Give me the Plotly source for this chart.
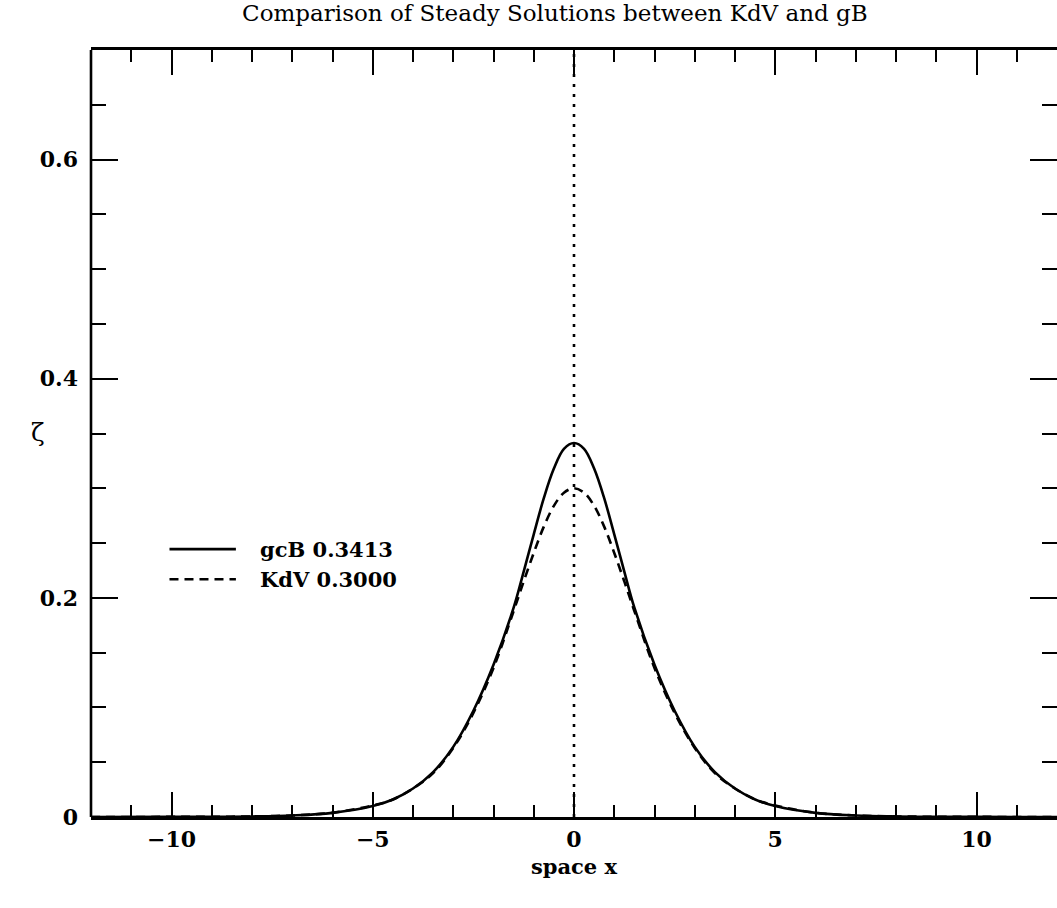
import plotly.graph_objects as go

# Steady solitary-wave profiles, sampled along x
x_vals = [-12.0, -10.0, -9.0, -8.0, -7.0, -6.0, -5.0, -4.5, -4.0, -3.5, -3.0, -2.5, -2.0,
          -1.5, -1.25, -1.0, -0.75, -0.5, -0.25, 0.0, 0.25, 0.5, 0.75, 1.0, 1.25, 1.5,
          2.0, 2.5, 3.0, 3.5, 4.0, 4.5, 5.0, 6.0, 7.0, 8.0, 9.0, 10.0, 12.0]

gcb_vals = [0.0, 0.0001, 0.0002, 0.0005, 0.0014, 0.0038, 0.010, 0.016, 0.026, 0.041, 0.064,
            0.097, 0.139, 0.191, 0.224, 0.258, 0.291, 0.318, 0.336, 0.3413, 0.336, 0.318,
            0.291, 0.258, 0.224, 0.191, 0.139, 0.097, 0.064, 0.041, 0.026, 0.016, 0.010,
            0.0038, 0.0014, 0.0005, 0.0002, 0.0001, 0.0]

kdv_vals = [0.0, 0.0001, 0.0002, 0.0005, 0.0014, 0.0039, 0.0105, 0.016, 0.026, 0.040, 0.063,
            0.095, 0.136, 0.188, 0.215, 0.241, 0.265, 0.284, 0.296, 0.300, 0.296, 0.284,
            0.265, 0.241, 0.215, 0.188, 0.136, 0.095, 0.063, 0.040, 0.026, 0.016, 0.0105,
            0.0039, 0.0014, 0.0005, 0.0002, 0.0001, 0.0]

legend_labels = ["gcB 0.3413", "KdV 0.3000"]
x_ticks = [-10, -5, 0, 5, 10]
x_tick_text = ["\u221210", "\u22125", "0", "5", "10"]
y_ticks = [0, 0.2, 0.4, 0.6]
y_tick_text = ["0", "0.2", "0.4", "0.6"]

SERIF = "DejaVu Serif"
INK = "black"

fig = go.Figure()

fig.add_trace(go.Scatter(x=x_vals, y=gcb_vals, mode="lines", line_shape="spline",
                         line=dict(color=INK, width=2.6), showlegend=False))
fig.add_trace(go.Scatter(x=x_vals, y=kdv_vals, mode="lines", line_shape="spline",
                         line=dict(color=INK, width=2.6, dash="9px,6px"), showlegend=False))
# right-hand tick axis carrier
fig.add_trace(go.Scatter(x=[0], y=[0], yaxis="y2", mode="markers",
                         marker=dict(opacity=0), showlegend=False, hoverinfo="skip"))

# centre line at x = 0
fig.add_shape(type="line", x0=0, x1=0, y0=0, y1=0.7, xref="x", yref="y",
              line=dict(color=INK, width=2.6, dash="3px,7px"))

# left frame line
fig.add_shape(type="line", x0=0, x1=0, y0=0, y1=1, xref="paper", yref="paper",
              line=dict(color=INK, width=2.6))

# key
key_y = [0.2445, 0.217]
key_dash = ["solid", "9px,6px"]
for lab, ky, dsh in zip(legend_labels, key_y, key_dash):
    fig.add_shape(type="line", x0=-10.05, x1=-8.4, y0=ky, y1=ky, xref="x", yref="y",
                  line=dict(color=INK, width=2.6, dash=dsh))
    fig.add_annotation(x=-7.85, y=ky, xref="x", yref="y", text=lab, showarrow=False,
                       xanchor="left", yanchor="middle",
                       font=dict(family=SERIF, size=21, color=INK, weight="bold"))

tick_font = dict(family=SERIF, size=22, color=INK, weight="bold")

fig.update_layout(
    width=1057, height=908,
    margin=dict(l=91, r=0, t=50, b=91),
    paper_bgcolor="white", plot_bgcolor="white",
    title=dict(text="Comparison of Steady Solutions between KdV and gB",
               x=0.525, xanchor="center", y=0.986, yanchor="middle",
               font=dict(family=SERIF, size=23, color=INK)),
    xaxis=dict(range=[-12, 12], showgrid=False, zeroline=False,
               showline=True, linecolor=INK, linewidth=2.6, mirror="ticks",
               ticks="inside", ticklen=25, tickwidth=2.4, tickcolor=INK,
               tickvals=x_ticks, ticktext=x_tick_text, tickfont=tick_font,
               ticklabelstandoff=1,
               minor=dict(dtick=1, tick0=0, ticks="inside", ticklen=12,
                          tickwidth=2.4, tickcolor=INK, showgrid=False),
               title=dict(text="space x", standoff=9,
                          font=dict(family=SERIF, size=21, color=INK, weight="bold"))),
    yaxis=dict(range=[0, 0.7], showgrid=False, zeroline=False, showline=False,
               ticks="inside", ticklen=27, tickwidth=2.4, tickcolor=INK,
               tickvals=y_ticks, ticktext=y_tick_text, tickfont=tick_font,
               ticklabelstandoff=12,
               minor=dict(dtick=0.05, tick0=0, ticks="inside", ticklen=15,
                          tickwidth=2.4, tickcolor=INK, showgrid=False)),
    yaxis2=dict(range=[0, 0.7], overlaying="y", side="right", showgrid=False,
                zeroline=False, showline=False, showticklabels=False,
                ticks="inside", ticklen=27, tickwidth=2.4, tickcolor=INK,
                tickvals=y_ticks,
                minor=dict(dtick=0.05, tick0=0, ticks="inside", ticklen=15,
                           tickwidth=2.4, tickcolor=INK, showgrid=False)),
)

# axis symbol for the vertical coordinate
fig.add_annotation(xref="paper", yref="paper", x=(29 - 91) / 966, y=(817 - 432) / 767,
                   text="\u03b6", showarrow=False,
                   font=dict(family=SERIF, size=25, color=INK))

fig.write_html("out.html")
